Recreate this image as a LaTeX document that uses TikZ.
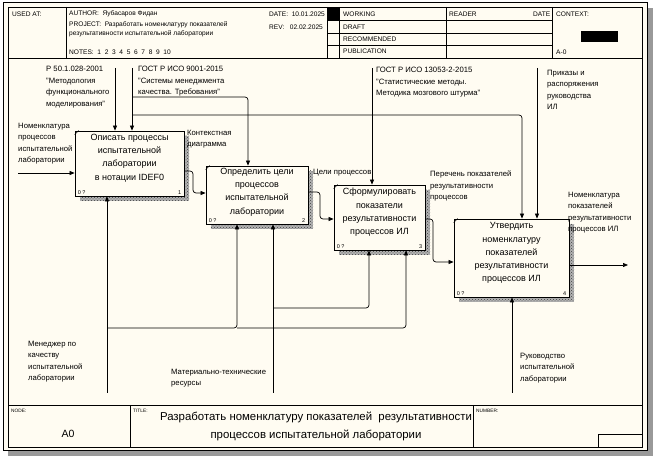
\documentclass[tikz,border=0pt]{standalone}
\usepackage{fontspec}
\setmainfont{Liberation Sans}
\usetikzlibrary{arrows.meta,patterns}
\definecolor{paper}{RGB}{255,252,242}
\begin{document}
\begin{tikzpicture}[x=1pt,y=-1pt,
  every node/.style={inner sep=0pt},
  lab/.style={font=\fontsize{7.7}{11.5}\selectfont, align=left, anchor=north west},
  hd/.style={font=\fontsize{6.6}{7.5}\selectfont, anchor=west},
  tiny/.style={font=\fontsize{4.8}{6}\selectfont, anchor=north west},
  fnbox/.style={draw, line width=0.8pt, fill=paper,
    preaction={fill=black!30, transform canvas={xshift=5pt,yshift=-5pt}},
    preaction={pattern=crosshatch dots, pattern color=black!75,
      transform canvas={xshift=5pt,yshift=-5pt}}},
  boxtext/.style={font=\fontsize{9}{13.2}\selectfont, align=center, anchor=north},
  corner/.style={font=\fontsize{5.5}{6}\selectfont},
  arr/.style={line width=0.7pt, -{Triangle[length=5pt,width=4pt]}, rounded corners=3pt},
  grid/.style={line width=0.5pt}]
% canvas
\useasboundingbox (0,0) rectangle (657,457);
\fill[white] (0,0) rectangle (657,457);
\fill[black!40] (8,8) rectangle (653,456);
\filldraw[fill=paper, line width=1pt] (3,3) rectangle (647,451);
\draw[line width=0.6pt] (8,7) rectangle (642,447);
% header grid
\draw[grid] (8,58) -- (642,58);
\draw[grid] (66,7) -- (66,58);
\foreach \xx in {327,339,446,552} \draw[grid] (\xx,7) -- (\xx,58);
\foreach \yy in {20,33,45} \draw[grid] (327,\yy) -- (552,\yy);
% header texts
\node[hd] (h1) at (12,14) {USED AT:};
\node[hd] (h2) at (69,14) {AUTHOR:\ \ Яубасаров Фидан};
\node[hd] (h3) at (69,25) {PROJECT:\ \ Разработать номенклатуру показателей};
\node[hd] (h4) at (69,34) {результативности испытательной лаборатории};
\node[hd] (h5) at (69,52) {NOTES:\ \ 1\ \ 2\ \ 3\ \ 4\ \ 5\ \ 6\ \ 7\ \ 8\ \ 9\ \ 10};
\node[hd] (h6) at (269,14) {DATE:\ \ 10.01.2025};
\node[hd] (h7) at (269,27) {REV:\ \ \ 02.02.2025};
\node[hd] (h8) at (343,14) {WORKING};
\node[hd] (h9) at (343,27) {DRAFT};
\node[hd] (h10) at (343,39) {RECOMMENDED};
\node[hd] (h11) at (343,51) {PUBLICATION};
\node[hd] (h12) at (449,14) {READER};
\node[hd] (h13) at (533,14) {DATE};
\node[hd] (h14) at (556,14) {CONTEXT:};
\node[hd] (h15) at (556,52) {A-0};
\fill[black] (327,7) rectangle (339,20);
\fill[black] (581,31) rectangle (618,42);
% footer
\draw[grid] (8,405) -- (642,405);
\draw[grid] (130,405) -- (130,447);
\draw[grid] (473,405) -- (473,447);
\draw[grid] (598,434) rectangle (642,447);
\node[tiny] (f1) at (11,409) {NODE:};
\node[font=\fontsize{10.5}{12}\selectfont] (f2) at (68,434) {A0};
\node[tiny] (f3) at (133,409) {TITLE:};
\node[font=\fontsize{11.4}{18}\selectfont, align=center] (f4) at (316,426)
  {Разработать номенклатуру показателей\ \ результативности\\процессов испытательной лаборатории};
\node[tiny] (f5) at (476,409) {NUMBER:};
% boxes
\node[fnbox, minimum width=109pt, minimum height=65pt] (b1) at (129.5,163.5) {};
\node[fnbox, minimum width=102pt, minimum height=58pt] (b2) at (257,195) {};
\node[fnbox, minimum width=91pt, minimum height=65pt] (b3) at (379.5,217.5) {};
\node[fnbox, minimum width=115pt, minimum height=78pt] (b4) at (511.5,258) {};
\foreach \b/\n in {b1/1,b2/2,b3/3,b4/4}{
  \draw[line width=0.6pt] ([yshift=-4pt]\b.north west) -- ([xshift=4pt]\b.north west);
  \node[corner, anchor=south west] (\b z) at ([shift={(3pt,1.5pt)}]\b.south west) {0 ?};
  \node[corner, anchor=south east] (\b n) at ([shift={(-3pt,1.5pt)}]\b.south east) {\n};
}
\node[boxtext] (b1t) at ([yshift=-3.5pt]b1.north) {Описать процессы\\испытательной\\лаборатории\\в нотации IDEF0};
\node[boxtext] (b2t) at ([yshift=-2.5pt]b2.north) {Определить цели\\процессов\\испытательной\\лаборатории};
\node[boxtext] (b3t) at ([yshift=-3.5pt]b3.north) {Сформулировать\\показатели\\результативности\\процессов ИЛ};
\node[boxtext] (b4t) at ([yshift=-4pt]b4.north) {Утвердить\\номенклатуру\\показателей\\результативности\\процессов ИЛ};
% coordinates of free ends and junctions
\coordinate (i1) at (18,173);
\coordinate (c1) at (115,68);
\coordinate (c2) at (132,68);
\coordinate (c3) at (372,68);
\coordinate (c4) at (537,68);
\coordinate (j1) at (132,97);
\coordinate (j2) at (132,115);
\coordinate (m1) at (107,393);
\coordinate (m2) at (273,393);
\coordinate (m3) at (512,393);
\coordinate (k1) at (107,328);
\coordinate (k2) at (237,328);
\coordinate (k3) at (273,308);
\coordinate (o4) at (628,265);
% inputs and outputs
\draw[arr] (i1) -- (i1 -| b1.west);
\draw[arr] (b1.east |- 0,171) -- (193,171) -- (193,193) -- (b2.west |- 0,193);
\draw[arr] (b2.east |- 0,192) -- (320,192) -- (320,219) -- (b3.west |- 0,219);
\draw[arr] (b3.east |- 0,219) -- (433,219) -- (433,262) -- (b4.west |- 0,262);
\draw[arr] (b4.east |- o4) -- (o4);
% controls
\draw[arr] (c1) -- (c1 |- b1.north);
\draw[arr] (c2) -- (c2 |- b1.north);
\draw[arr] (j1) -| (b2.north -| 248,0);
\draw[arr] (j2) -| (b4.north -| 522,0);
\draw[arr] (c3) -- (c3 |- b3.north);
\draw[arr] (c4) -- (c4 |- b4.north);
% mechanisms
\draw[arr] (m1) -- (m1 |- b1.south);
\draw[arr] (k1) -| (b2.south -| k2);
\draw[arr] (k2) -| (b3.south -| 406,0);
\draw[arr] (m2) -- (m2 |- b2.south);
\draw[arr] (k3) -| (b3.south -| 369,0);
\draw[arr] (m3) -- (m3 |- b4.south);
% labels
\node[lab] (l1) at (18,123) {Номенклатура\\процессов\\испытательной\\лаборатории};
\node[lab] (l2) at (46,66) {Р 50.1.028-2001\\"Методология\\функционального\\моделирования"};
\node[lab] (l3) at (138,66) {ГОСТ Р ИСО 9001-2015\\"Системы менеджмента\\качества. Требования"};
\node[lab] (l4) at (376,67) {ГОСТ Р ИСО 13053-2-2015\\"Статистические методы.\\Методика мозгового штурма"};
\node[lab] (l5) at (547,70) {Приказы и\\распоряжения\\руководства\\ИЛ};
\node[lab] (l6) at (187,130) {Контекстная\\диаграмма};
\node[lab] (l7) at (313,169) {Цели процессов};
\node[lab] (l8) at (430,171) {Перечень показателей\\результативности\\процессов};
\node[lab] (l9) at (568,192) {Номенклатура\\показателей\\результативности\\процессов ИЛ};
\node[lab] (l10) at (28,341) {Менеджер по\\качеству\\испытательной\\лаборатории};
\node[lab] (l11) at (171,369) {Материально-технические\\ресурсы};
\node[lab] (l12) at (520,353) {Руководство\\испытательной\\лаборатории};
\end{tikzpicture}
\end{document}
